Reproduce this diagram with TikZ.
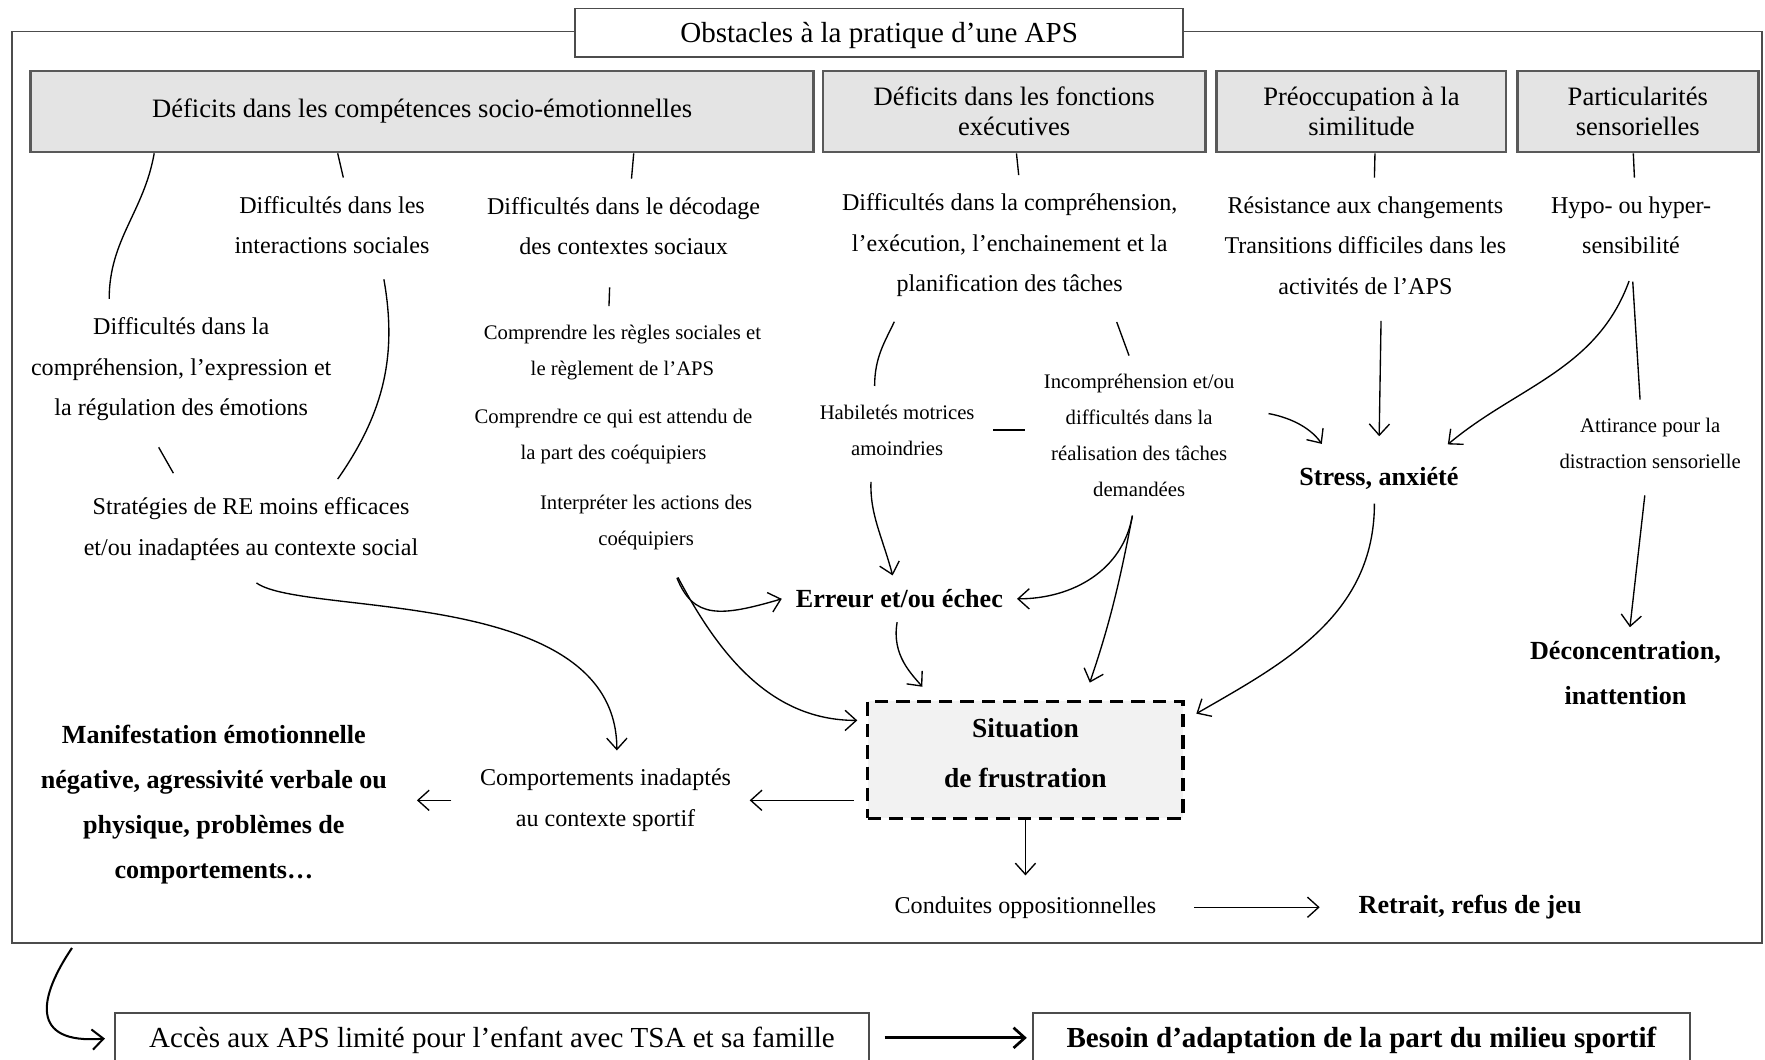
\documentclass[tikz,border=0pt]{standalone}
\usepackage{fontspec}
\setmainfont{Liberation Serif}
\usetikzlibrary{arrows.meta}
\definecolor{grisboite}{RGB}{228,228,228}
\definecolor{grissit}{RGB}{242,242,242}
\newcommand\fhdr{\fontsize{12.9}{15}\selectfont}
\newcommand\ftete{\fontsize{11.8}{13.5}\selectfont}
\newcommand\fmain{\fontsize{10.7}{18}\selectfont}
\newcommand\fpetit{\fontsize{9.2}{16}\selectfont}
\newcommand\fgras{\fontsize{11.6}{20}\selectfont\bfseries}
\newcommand\fsit{\fontsize{12.2}{22}\selectfont\bfseries}

\begin{document}
\begin{tikzpicture}[x=0.5pt,y=-0.5pt,>={Straight Barb[length=5pt,width=9pt]},line width=0.6pt,
  enc/.style={draw=black!65,line width=1.2pt,fill=grisboite,align=center,font=\ftete,minimum height=36pt},
  txt/.style={align=center,inner sep=8pt,font=\fmain},
  petit/.style={align=center,inner sep=8pt,font=\fpetit},
  gras/.style={align=center,inner sep=6pt,font=\fgras},
  bas/.style={draw=black!70,line width=0.8pt,fill=white,minimum height=22pt,text height=10.3pt,text depth=1.3pt}]
  \useasboundingbox (0,0) rectangle (1568,941);
  % cadre general et titre
  \node[draw=black!70,line width=0.8pt,minimum width=777pt,minimum height=405pt] (cadre) at (788,433) {};
  \node[bas,minimum width=270pt,minimum height=21.5pt,font=\fhdr] (titre) at (781,29) {Obstacles à la pratique d’une APS};
  % les quatre encadres gris
  \foreach \nom/\x/\w/\txt in {def-se/375/348/{Déficits dans les compétences socio-émotionnelles},
      def-fe/901/170/{Déficits dans les fonctions\\exécutives},
      preoc/1209.5/128.5/{Préoccupation à la\\similitude},
      sens/1455/107/{Particularités\\sensorielles}}
    \node[enc,minimum width=\w pt] (\nom) at (\x,99) {\txt};
  % difficultes
  \node[txt] (inter) at (295,200) {Difficultés dans les\\interactions sociales};
  \node[txt] (decod) at (554,201) {Difficultés dans le décodage\\des contextes sociaux};
  \node[txt] (compr) at (897,218) {Difficultés dans la compréhension,\\l’exécution, l’enchainement et la\\planification des tâches};
  \node[txt] (resist) at (1213,218) {Résistance aux changements\\Transitions difficiles dans les\\activités de l’APS};
  \node[txt] (hypo) at (1449,200) {Hypo- ou hyper-\\sensibilité};
  \node[txt] (emo) at (161,328) {Difficultés dans la\\compréhension, l’expression et\\la régulation des émotions};
  \node[txt] (strat) at (223,470) {Stratégies de RE moins efficaces\\et/ou inadaptées au contexte social};
  % details plus fins
  \node[petit] (regles) at (553,313) {Comprendre les règles sociales et\\le règlement de l’APS};
  \node[petit] (attendu) at (545,388) {Comprendre ce qui est attendu de\\la part des coéquipiers};
  \node[petit] (interp) at (574,464) {Interpréter les actions des\\coéquipiers};
  \node[petit] (habil) at (797,382) {Habiletés motrices\\amoindries};
  \node[petit] (incomp) at (1012,387) {Incompréhension et/ou\\difficultés dans la\\réalisation des tâches\\demandées};
  \node[petit] (attir) at (1466,394) {Attirance pour la\\distraction sensorielle};
  % effets
  \node[gras] (erreur) at (799,532) {Erreur et/ou échec};
  \node[gras] (stress) at (1225,425) {Stress, anxiété};
  \node[gras] (deconc) at (1444,598) {Déconcentration,\\inattention};
  \node[gras] (manif) at (190,715) {Manifestation émotionnelle\\négative, agressivité verbale ou\\physique, problèmes de\\comportements…};
  \node[draw,line width=1.4pt,dash pattern=on 6pt off 3.5pt,fill=grissit,minimum width=140pt,minimum height=52pt,align=center,font=\fsit,text depth=6pt] (situation) at (911,675) {Situation\\de frustration};
  \node[txt] (comport) at (538,711) {Comportements inadaptés\\au contexte sportif};
  \node[txt] (conduit) at (911,806) {Conduites oppositionnelles};
  \node[gras] (retrait) at (1306,806) {Retrait, refus de jeu};
  % bas de la figure
  \node[bas,minimum width=335pt,font=\fhdr] (acces) at (437,922) {Accès aux APS limité pour l’enfant avec TSA et sa famille};
  \node[bas,minimum width=291.5pt,font=\fhdr\bfseries] (besoin) at (1209.5,922) {Besoin d’adaptation de la part du milieu sportif};
  % traits simples
  \foreach \src/\dx/\dst/\dy in {def-se/-37.5/inter/5, def-se/94/decod/3.5, def-fe/1/compr/4,
      preoc/6/resist/4, sens/-2/hypo/1.5}
    \draw ([xshift=\dx pt]\src.south) -- ([xshift=\dy pt]\dst.north);
  \draw ([xshift=-119pt]def-se.south) to[out=-100,in=90] ([xshift=-32pt]emo.north);
  \draw[shorten <=3pt] ([xshift=22.5pt]inter.south) to[out=-80,in=55] ([xshift=38.5pt]strat.north);
  \draw[shorten <=4pt,shorten >=3pt] ([xshift=-12pt]emo.south) -- ([xshift=-33pt]strat.north);
  \draw[shorten <=6pt] ([xshift=-6pt]decod.south) -- ([xshift=-6pt]regles.north);
  \draw[shorten <=3pt] ([xshift=-50pt]compr.south) to[out=-115,in=90] ([xshift=-10pt]habil.north);
  \draw[shorten <=3pt] ([xshift=46.5pt]compr.south) -- ([xshift=-4.5pt]incomp.north);
  \draw (habil.east) -- (incomp.west |- habil.east);
  \draw[shorten <=4pt] ([xshift=0.5pt]hypo.south) -- ([xshift=-4.5pt]attir.north);
  % fleches
  \draw[->,shorten <=4pt,shorten >=6pt] ([xshift=0.5pt]hypo.south) to[out=-110,in=40] ([xshift=26pt]stress.north);
  \draw[->,shorten <=3.5pt,shorten >=7.5pt] ([xshift=7pt]resist.south) -- (stress.north);
  \draw[->,shorten <=7pt,shorten >=5pt] ([yshift=11pt]incomp.east) to[out=-10,in=125] ([xshift=-22.5pt]stress.north);
  \draw[->,shorten <=3.5pt] ([xshift=-11.5pt]habil.south) to[out=-92,in=105] ([xshift=-3pt]erreur.north);
  \draw[->] ([xshift=-3pt]incomp.south) to[out=-100,in=0] (erreur.east);
  \draw[->,shorten >=8pt] ([xshift=-3pt]incomp.south) to[bend left=4] ([xshift=26pt]situation.north);
  \draw[->,shorten >=7.5pt] ([xshift=-1pt]erreur.south) to[out=-100,in=130] ([xshift=-41pt]situation.north);
  \draw[->,shorten <=4.5pt,shorten >=4pt] ([xshift=12pt]interp.south) to[out=-62,in=180] ([yshift=17.5pt]situation.west);
  \draw[->,shorten <=4.5pt] ([xshift=12pt]interp.south) .. controls (616,550) and (640,548) .. (erreur.west);
  \draw[->,shorten >=6pt] ([xshift=-2pt]stress.south) to[out=-90,in=30] ([yshift=17.5pt]situation.east);
  \draw[->,shorten <=3.5pt] ([xshift=-2pt]attir.south) -- ([xshift=2pt]deconc.north);
  \draw[->,shorten <=3pt] (strat.south) .. controls (270,548) and (548,520) .. ([xshift=5pt]comport.north);
  \draw[->,shorten <=5.5pt] ([yshift=-18pt]situation.west) -- (comport.east);
  \draw[->,shorten <=4.5pt,shorten >=7pt] (comport.west) -- (manif.east |- comport.west);
  \draw[->,shorten >=1pt] (situation.south) -- (conduit.north);
  \draw[->,shorten <=8.5pt,shorten >=11pt] (conduit.east) -- (retrait.west);
  \draw[->,line width=0.9pt,shorten <=2pt,shorten >=4pt] ([xshift=28pt]cadre.south west) .. controls (35,885) and (25,928) .. (acces.west);
  \draw[->,line width=1.2pt,shorten <=6.5pt,shorten >=2.5pt] (acces.east) -- (besoin.west);
\end{tikzpicture}
\end{document}
